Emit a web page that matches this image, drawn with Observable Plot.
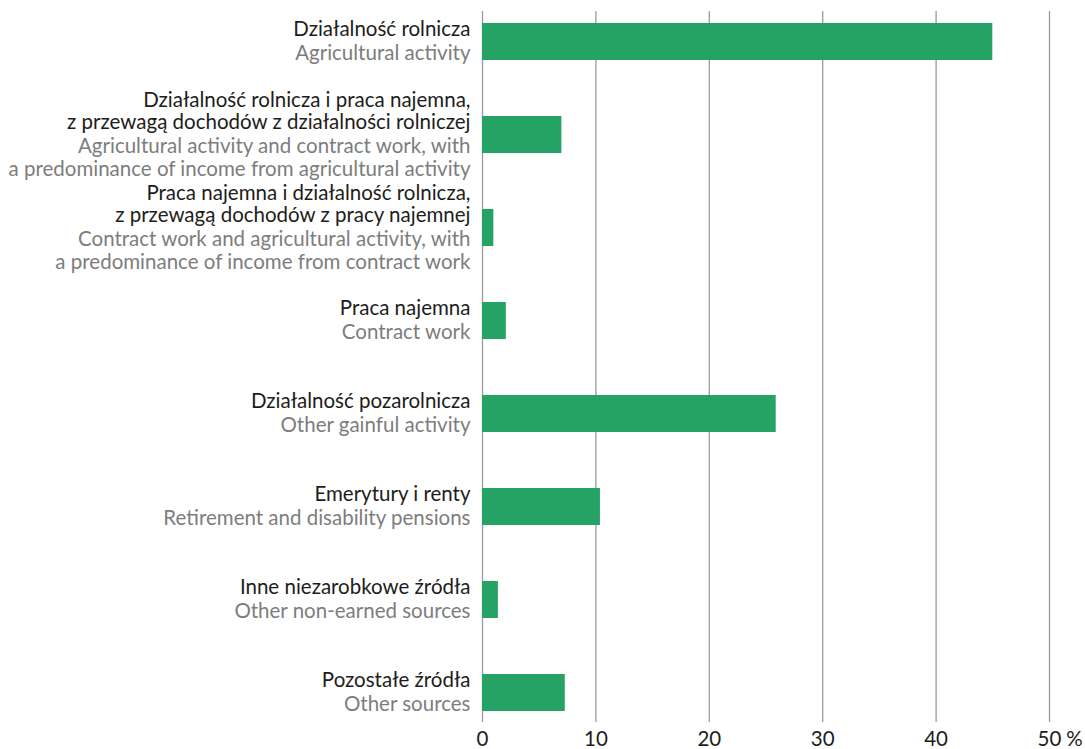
<!DOCTYPE html>
<html>
<head>
<meta charset="utf-8">
<script src="https://cdn.jsdelivr.net/npm/d3@7"></script>
<script src="https://cdn.jsdelivr.net/npm/@observablehq/plot@0.6"></script>
<style>
  html, body { margin: 0; padding: 0; background: #fff; }
  #chart svg { display: block; }
</style>
</head>
<body>
<div id="chart"></div>
<script>
const labelsPl = [
  "Działalność rolnicza",
  "Działalność rolnicza i praca najemna,\nz przewagą dochodów z działalności rolniczej",
  "Praca najemna i działalność rolnicza,\nz przewagą dochodów z pracy najemnej",
  "Praca najemna",
  "Działalność pozarolnicza",
  "Emerytury i renty",
  "Inne niezarobkowe źródła",
  "Pozostałe źródła"
];
const labelsEn = [
  "Agricultural activity",
  "Agricultural activity and contract work, with\na predominance of income from agricultural activity",
  "Contract work and agricultural activity, with\na predominance of income from contract work",
  "Contract work",
  "Other gainful activity",
  "Retirement and disability pensions",
  "Other non-earned sources",
  "Other sources"
];
const values = [45.0, 7.0, 1.0, 2.1, 25.9, 10.4, 1.4, 7.3];
const xTicks = [0, 10, 20, 30, 40, 50];
const unitLabel = "%";

const data = labelsPl.map((pl, i) => ({ key: pl, pl, en: labelsEn[i], value: values[i] }));

const FONT = "Lato, 'Open Sans', sans-serif";
const FS = 20.5;

const chart = Plot.plot({
  width: 1085,
  height: 749,
  marginLeft: 482,
  marginRight: 36,
  marginTop: 11,
  marginBottom: 27,
  style: { fontFamily: FONT, fontSize: FS + "px", color: "#1d1d1b", background: "#fff" },
  x: { domain: [0, 50], axis: null, label: null },
  y: { domain: labelsPl, range: [-8, 742], paddingInner: 0.6, paddingOuter: 0.3, axis: null, label: null },
  marks: [
    Plot.ruleX(xTicks, { stroke: "#9a9a9a", strokeWidth: 1.3 }),
    Plot.barX(data, { x: "value", y: "key", fill: "#24a365" }),
    Plot.axisX(xTicks, { anchor: "bottom", label: null, tickSize: 0, tickPadding: 9, fontSize: FS, fill: "#1d1d1b", tickFormat: d => String(d), stroke: null }),
    Plot.text([unitLabel], { x: 50, frameAnchor: "bottom", dx: 25, dy: 9, lineAnchor: "top", fontSize: FS, fill: "#1d1d1b" }),
    Plot.text(data, { x: 0, y: "key", text: "pl", textAnchor: "end", dx: -12, dy: -6, lineAnchor: "bottom", lineHeight: 1.09, fontSize: FS, fill: "#1d1d1b" }),
    Plot.text(data, { x: 0, y: "key", text: "en", textAnchor: "end", dx: -12, dy: 2.5, lineAnchor: "top", lineHeight: 1.09, fontSize: FS, fill: "#7d7d7d" })
  ]
});
document.getElementById("chart").appendChild(chart);
</script>
</body>
</html>
